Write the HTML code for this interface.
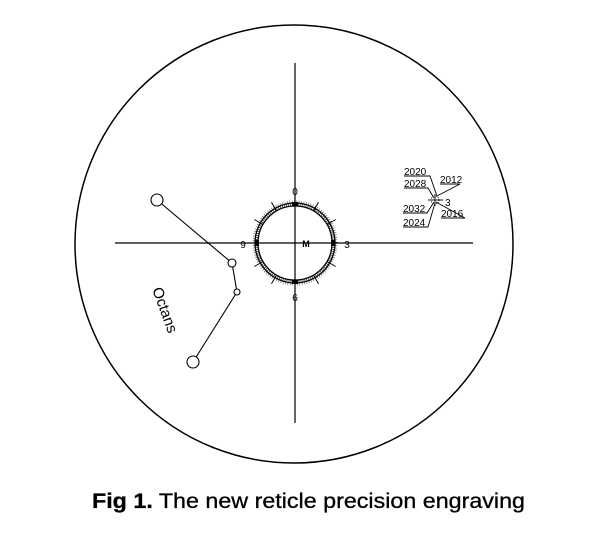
<!DOCTYPE html>
<html><head><style>body{margin:0;background:#fff}svg{display:block}</style></head><body>
<svg width="600" height="541" viewBox="0 0 600 541" xmlns="http://www.w3.org/2000/svg" font-family="Liberation Sans, sans-serif">
<circle cx="294" cy="244" r="219" fill="none" stroke="#000" stroke-width="1.5"/>
<line x1="295" y1="63" x2="295" y2="423" stroke="#000" stroke-width="1.2"/>
<line x1="115" y1="243" x2="473" y2="243" stroke="#000" stroke-width="1.2"/>
<circle cx="295" cy="243" r="40" fill="none" stroke="#000" stroke-width="1.3"/>
<circle cx="295" cy="243" r="37" fill="none" stroke="#000" stroke-width="1.3"/>
<circle cx="295" cy="243" r="38.5" fill="none" stroke="#000" stroke-width="3" stroke-dasharray="0.8 1.2" opacity="0.8"/>
<circle cx="295" cy="243" r="41.5" fill="none" stroke="#000" stroke-width="2" stroke-dasharray="0.6 1.8" opacity="0.7"/>
<g stroke="#000" stroke-width="1">
<line x1="295" y1="206" x2="295" y2="196" transform="rotate(30 295 243)"/>
<line x1="295" y1="206" x2="295" y2="196" transform="rotate(60 295 243)"/>
<line x1="295" y1="206" x2="295" y2="196" transform="rotate(120 295 243)"/>
<line x1="295" y1="206" x2="295" y2="196" transform="rotate(150 295 243)"/>
<line x1="295" y1="206" x2="295" y2="196" transform="rotate(210 295 243)"/>
<line x1="295" y1="206" x2="295" y2="196" transform="rotate(240 295 243)"/>
<line x1="295" y1="206" x2="295" y2="196" transform="rotate(300 295 243)"/>
<line x1="295" y1="206" x2="295" y2="196" transform="rotate(330 295 243)"/>
</g>
<g fill="#000"><rect x="292" y="202" width="6" height="4"/><rect x="292" y="280" width="6" height="4"/><rect x="255" y="240" width="4" height="6"/><rect x="331" y="240" width="4" height="6"/></g>
<g font-size="10" text-anchor="middle">
<text x="295" y="195">0</text><text x="243" y="248">9</text><text x="347" y="248">3</text><text x="295" y="301">6</text>
<text x="306" y="247" font-size="9" font-weight="bold">M</text>
</g>
<g stroke="#000" stroke-width="1.1" fill="#fff">
<polyline points="157,200 232,263 237,292 193,362" fill="none"/>
<circle cx="157" cy="200" r="6"/><circle cx="232" cy="263" r="4"/><circle cx="237" cy="292" r="3"/><circle cx="193" cy="362" r="6"/>
</g>
<text x="165" y="315" font-size="15" text-anchor="middle" transform="rotate(70 165 310)">Octans</text>
<g stroke="#000" stroke-width="0.9" fill="none">
<line x1="428" y1="200" x2="443" y2="200"/><line x1="435" y1="194" x2="435" y2="206"/>
<circle cx="435" cy="200" r="4" stroke-dasharray="1 1"/>
<polyline points="404,176 430,176 437,196"/>
<polyline points="404,188 428,188 434,198"/>
<polyline points="440,184 460,184 437,196"/>
<polyline points="403,213 427,213 434,202"/>
<polyline points="441,218 465,218 436,202"/>
<polyline points="403,227 428,227 435,203"/>
</g>
<g font-size="10">
<text x="404" y="175">2020</text><text x="404" y="187">2028</text><text x="440" y="183">2012</text>
<text x="403" y="212">2032</text><text x="441" y="217">2016</text><text x="403" y="226">2024</text>
<text x="445" y="206">3</text>
</g>
<text x="92" y="508" font-size="21" textLength="433" lengthAdjust="spacingAndGlyphs" stroke="#000" stroke-width="0.3"><tspan font-weight="bold">Fig 1.</tspan> The new reticle precision engraving</text>
</svg>
</body></html>
